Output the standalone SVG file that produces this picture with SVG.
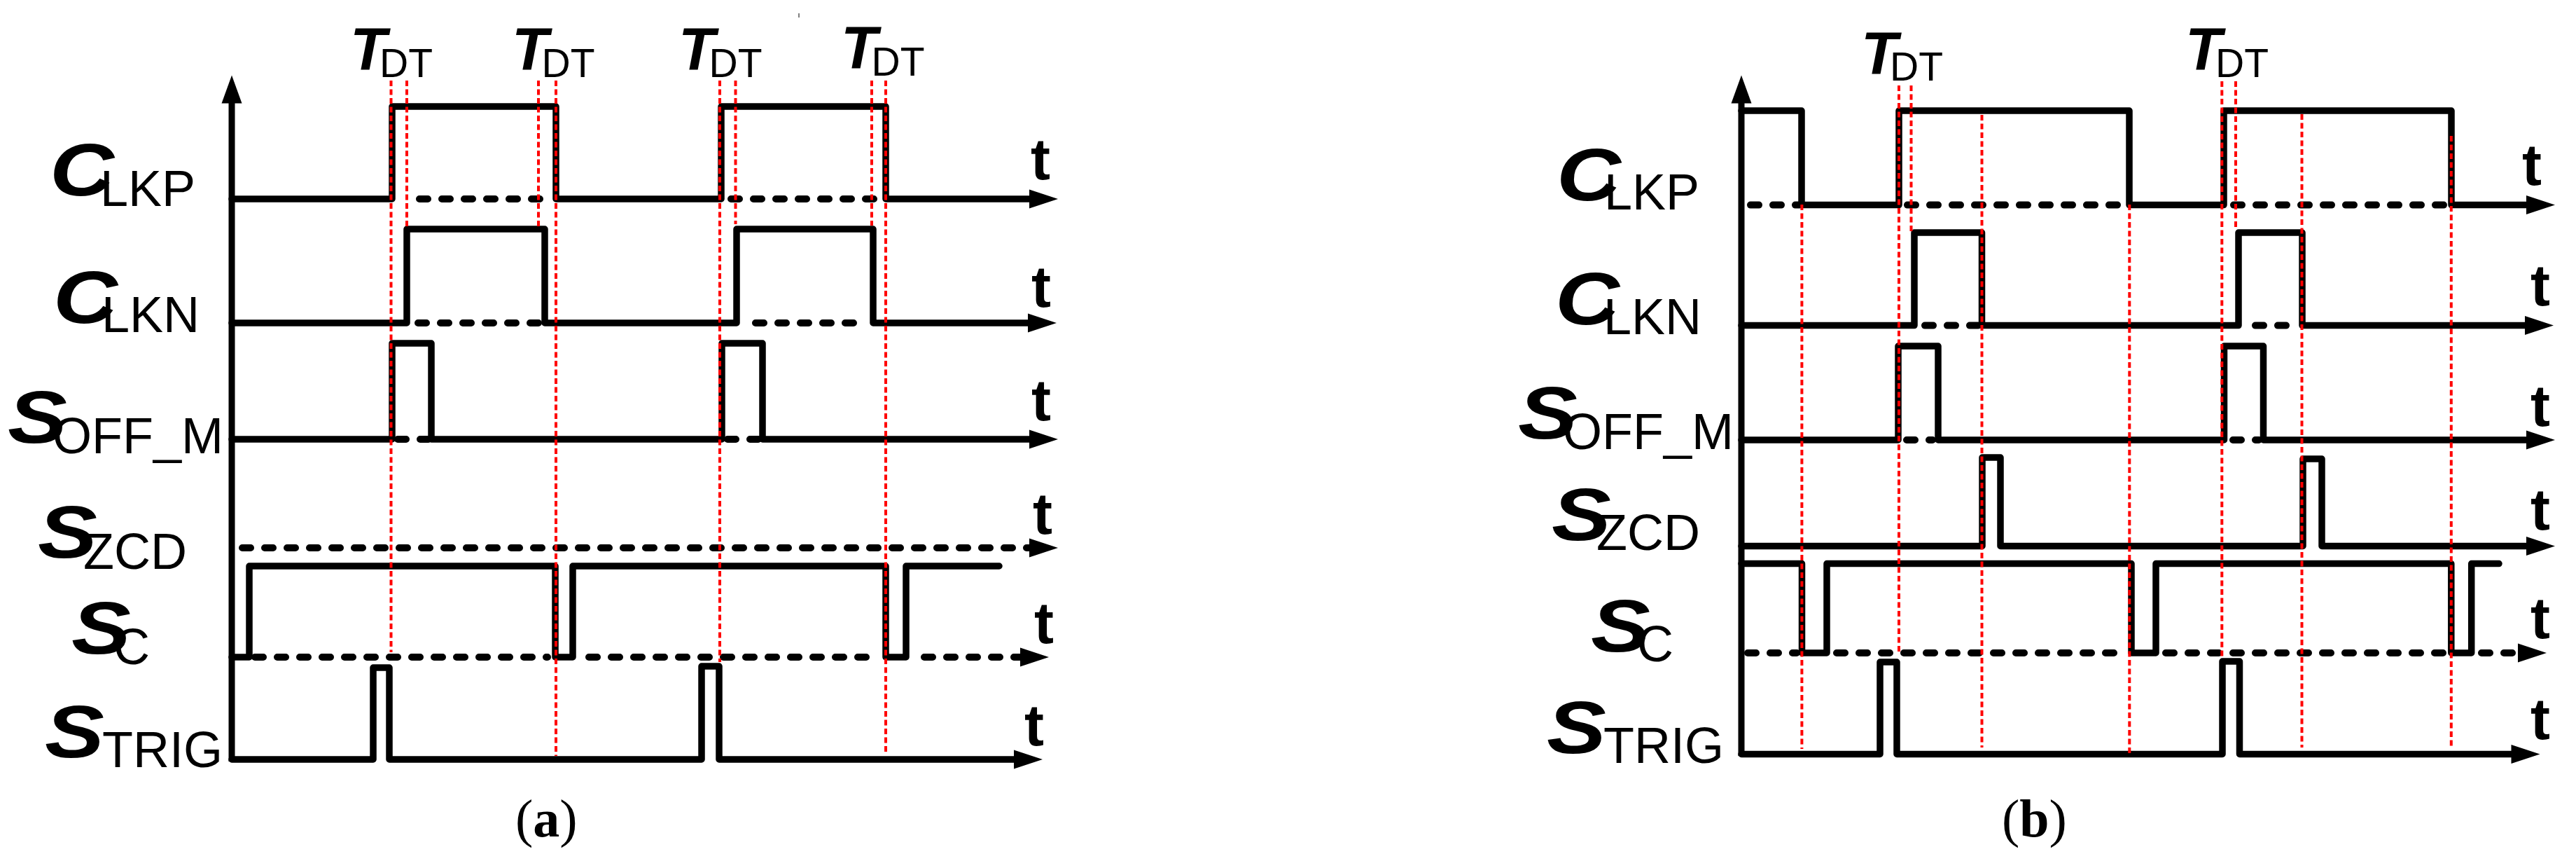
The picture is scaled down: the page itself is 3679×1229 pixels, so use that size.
<svg xmlns="http://www.w3.org/2000/svg" xmlns:xlink="http://www.w3.org/1999/xlink" width="3679" height="1229" viewBox="0 0 3679 1229">
<style>
.w{fill:none;stroke:#000;stroke-width:9.5;stroke-linejoin:round;stroke-linecap:round}
.d{fill:none;stroke:#000;stroke-width:10;stroke-dasharray:12 20;stroke-linecap:round}
.ax{fill:none;stroke:#000;stroke-width:9}
.g{fill:none;stroke:#f00;stroke-width:4;stroke-dasharray:8 4.5}
.L{font-family:"Liberation Sans",Arial,sans-serif;font-weight:bold;font-style:italic;font-size:106px;letter-spacing:-26px}
.s{font-family:"Liberation Sans",Arial,sans-serif;font-size:72px}
.T{font-family:"Liberation Sans",Arial,sans-serif;font-weight:bold;font-style:italic;font-size:85px;letter-spacing:-14px}
.dt{font-family:"Liberation Sans",Arial,sans-serif;font-size:57px}
.t{font-family:"Liberation Sans",Arial,sans-serif;font-weight:bold;font-size:84px}
.cap{font-family:"Liberation Serif","Times New Roman",serif;font-size:76px}
</style>
<defs>
<path id="ar" d="M0,0 L-41,-13.5 L-41,13.5 Z" fill="#000"/>
<path id="au" d="M0,0 L-14.5,40 L14.5,40 Z" fill="#000"/>
</defs>
<rect width="3679" height="1229" fill="#fff"/>

<!-- Panel (a) -->
<g id="panel-a">
  <g id="a-axis">
    <line class="ax" x1="331" y1="1087" x2="331" y2="140"/>
    <use xlink:href="#au" href="#au" transform="translate(331,107.5)"/>
  </g>
  <g id="a-clkp">
    <path class="w" d="M331,284 H560 V152 H794 V284 H1030 V152 H1265 V284 H1473"/>
    <path class="d" d="M599,284 H775 M1044,284 H1250"/>
    <use href="#ar" xlink:href="#ar" transform="translate(1511,284)"/>
  </g>
  <g id="a-clkn">
    <path class="w" d="M331,461 H581 V327 H778 V461 H1052 V327 H1247 V461 H1471"/>
    <path class="d" d="M597,461 H772 M1079,461 H1235"/>
    <use href="#ar" xlink:href="#ar" transform="translate(1509,461)"/>
  </g>
  <g id="a-soffm">
    <path class="w" d="M331,627 H560 V490 H616 V627 H1031 V490 H1089 V627 H1473"/>
    <path class="d" d="M568,627 H612 M1039,627 H1083"/>
    <use href="#ar" xlink:href="#ar" transform="translate(1511,627)"/>
  </g>
  <g id="a-szcd">
    <path class="d" d="M346,782 H1470"/>
    <use href="#ar" xlink:href="#ar" transform="translate(1511,782)"/>
  </g>
  <g id="a-sc">
    <path class="w" d="M331,938 H356 V808 H793 V938 H818 V808 H1265 V938 H1294 V808 H1427"/>
    <path class="d" d="M364,938 H782 M841,938 H1257 M1320,938 H1460"/>
    <use href="#ar" xlink:href="#ar" transform="translate(1498,938)"/>
  </g>
  <g id="a-strig">
    <path class="w" d="M331,1084 H533 V953 H556 V1084 H1002 V951 H1027 V1084 H1451"/>
    <use href="#ar" xlink:href="#ar" transform="translate(1489,1084)"/>
  </g>
  <g id="a-guides">
    <line class="g" x1="558.5" y1="115" x2="558.5" y2="931"/>
    <line class="g" x1="581" y1="115" x2="581" y2="327"/>
    <line class="g" x1="769" y1="115" x2="769" y2="325"/>
    <line class="g" x1="794" y1="115" x2="794" y2="1079"/>
    <line class="g" x1="1028" y1="115" x2="1028" y2="945"/>
    <line class="g" x1="1050.5" y1="115" x2="1050.5" y2="320"/>
    <line class="g" x1="1245" y1="115" x2="1245" y2="322"/>
    <line class="g" x1="1265" y1="115" x2="1265" y2="1077"/>
  </g>
  <g id="a-labels">
    <text class="L" transform="translate(71,279) scale(1.2,1)">C</text><text class="s" x="143" y="294">LKP</text>
    <text class="L" transform="translate(76,461) scale(1.2,1)">C</text><text class="s" x="145" y="474">LKN</text>
    <text class="L" transform="translate(11,632) scale(1.2,1)">S</text><text class="s" x="75" y="647">OFF_M</text>
    <text class="L" transform="translate(54,796) scale(1.2,1)">S</text><text class="s" x="119" y="812">ZCD</text>
    <text class="L" transform="translate(102,933) scale(1.2,1)">S</text><text class="s" x="162" y="948">C</text>
    <text class="L" transform="translate(64,1081) scale(1.2,1)">S</text><text class="s" x="146" y="1095">TRIG</text>
    <text class="T" x="500" y="99">T</text><text class="dt" x="542" y="109.5">DT</text>
    <text class="T" x="731" y="99">T</text><text class="dt" x="773.5" y="109.5">DT</text>
    <text class="T" x="969" y="99">T</text><text class="dt" x="1012.5" y="109.5">DT</text>
    <text class="T" x="1201" y="97">T</text><text class="dt" x="1244.5" y="107.5">DT</text>
    <text class="t" x="1472" y="256">t</text>
    <text class="t" x="1473" y="438">t</text>
    <text class="t" x="1473" y="600">t</text>
    <text class="t" x="1475" y="762">t</text>
    <text class="t" x="1477" y="918">t</text>
    <text class="t" x="1463" y="1064">t</text>
    <text class="cap" x="736" y="1194">(<tspan font-weight="bold">a</tspan>)</text>
  </g>
</g>

<line x1="1141" y1="19" x2="1141" y2="25" stroke="#000" stroke-width="1"/>

<!-- Panel (b) -->
<g id="panel-b">
  <g id="b-axis">
    <line class="ax" x1="2487" y1="1079" x2="2487" y2="140"/>
    <use href="#au" xlink:href="#au" transform="translate(2487,107.5)"/>
  </g>
  <g id="b-clkp">
    <path class="w" d="M2487,158 H2573 V292.6 H2712 V158 H3041 V292.6 H3176 V158 H3501 V292.6 H3611"/>
    <path class="d" d="M2500,292.6 H2570 M2724,292.6 H3036 M3190,292.6 H3495"/>
    <use href="#ar" xlink:href="#ar" transform="translate(3649,292.6)"/>
  </g>
  <g id="b-clkn">
    <path class="w" d="M2487,464.6 H2734 V332 H2830.5 V464.6 H3197 V332 H3288 V464.6 H3609"/>
    <path class="d" d="M2749,464.6 H2825 M3221,464.6 H3280"/>
    <use href="#ar" xlink:href="#ar" transform="translate(3647,464.6)"/>
  </g>
  <g id="b-soffm">
    <path class="w" d="M2487,628 H2711 V494 H2768 V628 H3176.5 V494 H3232.5 V628 H3611"/>
    <path class="d" d="M2723,628 H2760 M3189,628 H3226"/>
    <use href="#ar" xlink:href="#ar" transform="translate(3649,628)"/>
  </g>
  <g id="b-szcd">
    <path class="w" d="M2487,779.5 H2831 V653 H2857 V779.5 H3289 V655 H3316 V779.5 H3611"/>
    <use href="#ar" xlink:href="#ar" transform="translate(3649,779.5)"/>
  </g>
  <g id="b-sc">
    <path class="w" d="M2487,804.6 H2573.5 V932 H2609 V804.6 H3044 V932 H3079 V804.6 H3500.8 V932 H3529.7 V804.6 H3569"/>
    <path class="d" d="M2496,932 H2566 M2623,932 H3038 M3093,932 H3494 M3544,932 H3599"/>
    <use href="#ar" xlink:href="#ar" transform="translate(3637,932)"/>
  </g>
  <g id="b-strig">
    <path class="w" d="M2487,1076.5 H2685 V945 H2709 V1076.5 H3174 V944 H3198.5 V1076.5 H3590"/>
    <use href="#ar" xlink:href="#ar" transform="translate(3627.5,1076.5)"/>
  </g>
  <g id="b-guides">
    <line class="g" x1="2573.4" y1="292" x2="2573.4" y2="1069"/>
    <line class="g" x1="2712" y1="122" x2="2712" y2="933"/>
    <line class="g" x1="2729.5" y1="122" x2="2729.5" y2="332"/>
    <line class="g" x1="2830.5" y1="164" x2="2830.5" y2="1067"/>
    <line class="g" x1="3041.3" y1="292" x2="3041.3" y2="1075"/>
    <line class="g" x1="3173.3" y1="116" x2="3173.3" y2="941"/>
    <line class="g" x1="3193" y1="116" x2="3193" y2="328"/>
    <line class="g" x1="3287.5" y1="163" x2="3287.5" y2="1067"/>
    <line class="g" x1="3500.8" y1="194" x2="3500.8" y2="1067"/>
  </g>
  <g id="b-labels">
    <text class="L" transform="translate(2223,286) scale(1.2,1)">C</text><text class="s" x="2291" y="299">LKP</text>
    <text class="L" transform="translate(2221,463) scale(1.2,1)">C</text><text class="s" x="2290" y="476.5">LKN</text>
    <text class="L" transform="translate(2168,626) scale(1.2,1)">S</text><text class="s" x="2232" y="641">OFF_M</text>
    <text class="L" transform="translate(2216,771) scale(1.2,1)">S</text><text class="s" x="2280" y="785">ZCD</text>
    <text class="L" transform="translate(2272,930) scale(1.2,1)">S</text><text class="s" x="2338" y="944">C</text>
    <text class="L" transform="translate(2209,1075) scale(1.2,1)">S</text><text class="s" x="2290" y="1089">TRIG</text>
    <text class="T" x="2658" y="104.8">T</text><text class="dt" x="2699" y="114.7">DT</text>
    <text class="T" x="3121" y="99">T</text><text class="dt" x="3164" y="109.5">DT</text>
    <text class="t" x="3602" y="264">t</text>
    <text class="t" x="3614" y="436">t</text>
    <text class="t" x="3614" y="608">t</text>
    <text class="t" x="3614" y="756">t</text>
    <text class="t" x="3614" y="911">t</text>
    <text class="t" x="3614" y="1055">t</text>
    <text class="cap" x="2859" y="1194">(<tspan font-weight="bold">b</tspan>)</text>
  </g>
</g>
</svg>
